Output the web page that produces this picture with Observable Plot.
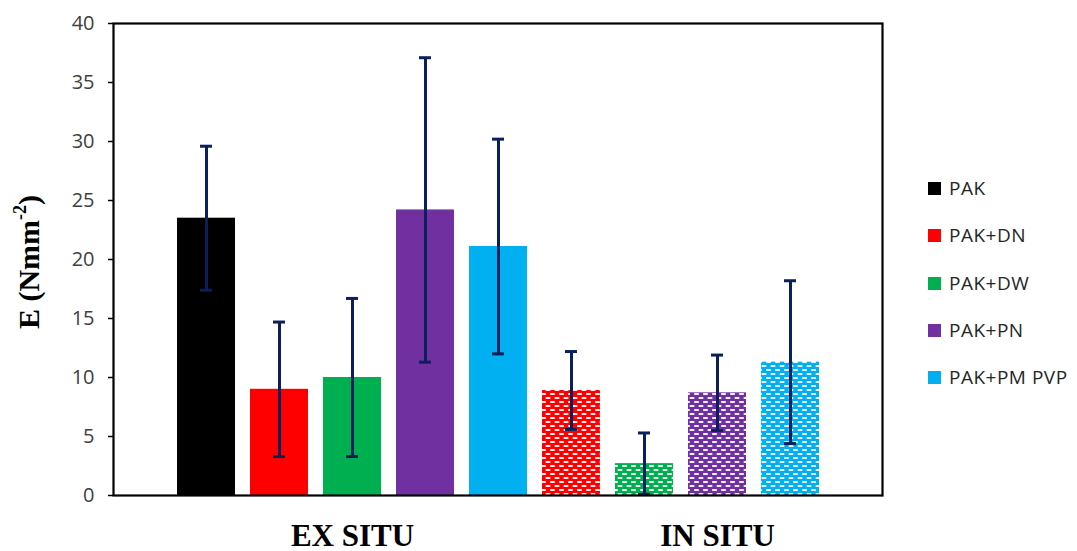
<!DOCTYPE html>
<html>
<head>
<meta charset="utf-8">
<script src="https://cdn.jsdelivr.net/npm/d3@7"></script>
<script src="https://cdn.jsdelivr.net/npm/@observablehq/plot@0.6"></script>
<style>
  html, body { margin: 0; padding: 0; background: #fff; }
  #wrap { position: relative; width: 1077px; height: 551px; overflow: hidden; }
  #wrap svg.plot { position: absolute; left: 0; top: 0; }
  .ytitle { position: absolute; left: 29px; top: 262px; transform: translate(-50%, -50%) rotate(-90deg);
    white-space: nowrap; font: bold 30px "Liberation Serif", "Times New Roman", serif; color: #000; }
  .ytitle sup { font-size: 60%; vertical-align: 0.7em; line-height: 0; }
  .leg { position: absolute; font: 19px "Open Sans", "Noto Sans", sans-serif; letter-spacing: 0.5px; color: #262626; white-space: nowrap; }
  .sw { position: absolute; width: 13px; height: 13px; }
</style>
</head>
<body>
<div id="wrap"></div>
<script>
// ---- data ----
const groups = ["EX SITU", "IN SITU"];
const series = ["PAK", "PAK+DN", "PAK+DW", "PAK+PN", "PAK+PM PVP"];
const colors = ["#000000", "#FF0000", "#00B050", "#7030A0", "#00B0F0"];
const exValues = [23.5, 9.0, 10.0, 24.2, 21.1];
const exErrors = [6.1, 5.7, 6.7, 12.9, 9.1];
const inValues = [null, 8.9, 2.7, 8.7, 11.3];
const inErrors = [null, 3.3, 2.6, 3.2, 6.9];
const yTicks = [0, 5, 10, 15, 20, 25, 30, 35, 40];
const groupLabelSlots = ["EX SITU|PAK+DW", "IN SITU|PAK+PN"];

// ---- build table ----
const values = [exValues, inValues];
const errors = [exErrors, inErrors];
const rows = [];
groups.forEach((g, gi) => series.forEach((s, si) => {
  const v = values[gi][si];
  if (v != null) rows.push({slot: g + "|" + s, group: g, series: s, si, value: v, err: errors[gi][si]});
}));
const slots = rows.map(d => d.slot);

// ---- patterns (defs) ----
const NS = "http://www.w3.org/2000/svg";
const defsSvg = document.createElementNS(NS, "svg");
defsSvg.setAttribute("width", 0); defsSvg.setAttribute("height", 0);
defsSvg.style.position = "absolute";
const defs = document.createElementNS(NS, "defs");
colors.forEach((c, i) => {
  const p = document.createElementNS(NS, "pattern");
  p.setAttribute("id", "pat" + i);
  p.setAttribute("patternUnits", "userSpaceOnUse");
  p.setAttribute("width", 9); p.setAttribute("height", 8);
  const bg = document.createElementNS(NS, "rect");
  bg.setAttribute("width", 9); bg.setAttribute("height", 8); bg.setAttribute("fill", c);
  p.appendChild(bg);
  [[1, 1], [5.5, 5], [-3.5, 5]].forEach(([x, y]) => {
    const r = document.createElementNS(NS, "rect");
    r.setAttribute("x", x); r.setAttribute("y", y);
    r.setAttribute("width", 5); r.setAttribute("height", 2);
    r.setAttribute("rx", 0.8);
    r.setAttribute("fill", "#fff"); r.setAttribute("fill-opacity", 0.92);
    p.appendChild(r);
  });
  defs.appendChild(p);
});
defsSvg.appendChild(defs);
document.body.appendChild(defsSvg);

// ---- chart ----
const exRows = rows.filter(d => d.group === groups[0]);
const inMarks = series.map((s, si) => {
  const data = rows.filter(d => d.group === groups[1] && d.si === si);
  return Plot.barY(data, {x: "slot", y: "value", fill: `url(#pat${si})`});
});

const chart = Plot.plot({
  width: 1077,
  height: 551,
  marginLeft: 113,
  marginRight: 195,
  marginTop: 23,
  marginBottom: 56,
  style: {background: "transparent", overflow: "visible"},
  x: {domain: slots, paddingInner: 0.21, paddingOuter: 0.85, axis: null},
  y: {domain: [0, 40], axis: null},
  color: {domain: series, range: colors},
  marks: [
    Plot.barY(exRows, {x: "slot", y: "value", fill: "series"}),
    ...inMarks,
    Plot.ruleX(rows, {x: "slot", y1: d => d.value - d.err, y2: d => d.value + d.err, stroke: "#0A1F5C", strokeWidth: 3}),
    Plot.tickY(rows, {x: "slot", y: d => d.value + d.err, stroke: "#0A1F5C", strokeWidth: 3, insetLeft: 23, insetRight: 23}),
    Plot.tickY(rows, {x: "slot", y: d => d.value - d.err, stroke: "#0A1F5C", strokeWidth: 3, insetLeft: 23, insetRight: 23}),
    Plot.axisY({ticks: yTicks, tickSize: 5, tickPadding: 14, tickFormat: d => String(d), label: null,
      fontSize: 20, fontFamily: "Open Sans, Noto Sans, sans-serif", fill: "#404040", stroke: "#000", strokeWidth: 1.5, strokeOpacity: 1}),
    Plot.frame({stroke: "#000", strokeWidth: 2.2}),
    Plot.text(groups, {x: (d, i) => groupLabelSlots[i], y: 0, text: d => d, dy: 50, lineAnchor: "bottom",
      fontSize: 31, fontWeight: "bold", fontFamily: "Liberation Serif, Times New Roman, serif", fill: "#000"})
  ]
});
chart.classList.add("plot");
const wrap = document.getElementById("wrap");
wrap.appendChild(chart);

// y-axis title
const yt = document.createElement("div");
yt.className = "ytitle";
yt.innerHTML = "E (Nmm<sup>-2</sup>)";
wrap.appendChild(yt);

// legend
const legY = [188, 235, 283, 330, 377];
series.forEach((s, i) => {
  const sw = document.createElement("div");
  sw.className = "sw";
  sw.style.left = "928px"; sw.style.top = (legY[i] - 6.5) + "px";
  sw.style.background = colors[i];
  wrap.appendChild(sw);
  const t = document.createElement("div");
  t.className = "leg";
  t.textContent = s;
  t.style.left = "949px"; t.style.top = (legY[i] - 13) + "px"; t.style.lineHeight = "26px";
  wrap.appendChild(t);
});
</script>
</body>
</html>
